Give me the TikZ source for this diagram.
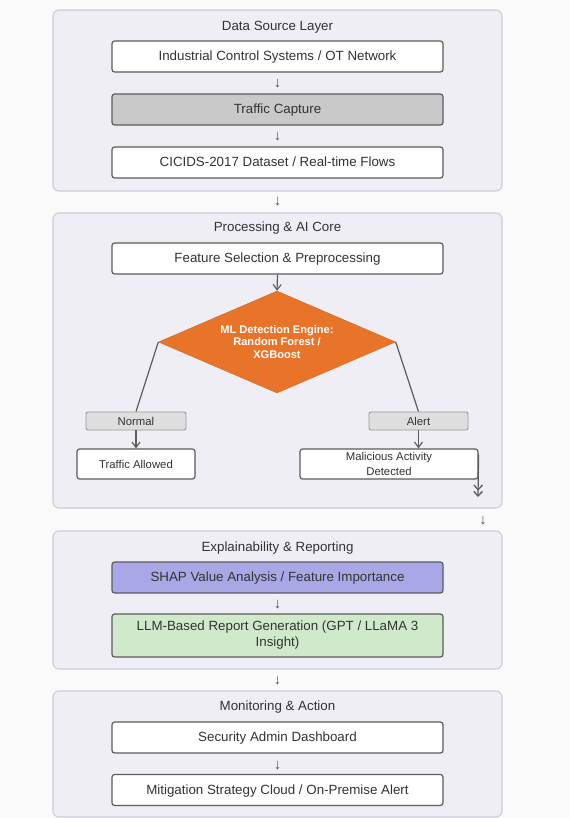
\documentclass[tikz,border=0pt]{standalone}
\usepackage{fontspec}
\setmainfont{Liberation Sans}
\usetikzlibrary{shapes.geometric,arrows.meta}
\definecolor{bgpage}{HTML}{FAFAFA}
\definecolor{layerfill}{HTML}{EEEEF4}
\definecolor{layerdraw}{HTML}{C9CBD9}
\definecolor{boxdraw}{HTML}{5C5C5C}
\definecolor{txt}{HTML}{333333}
\definecolor{capfill}{HTML}{C9C9C9}
\definecolor{shapfill}{HTML}{A9A7E6}
\definecolor{llmfill}{HTML}{D0E9CB}
\definecolor{diafill}{HTML}{E8742A}
\definecolor{tagfill}{HTML}{DEDEDE}
\definecolor{tagdraw}{HTML}{9A9A9A}
\begin{document}
\begin{tikzpicture}[x=0.75pt,y=-0.75pt,
  layer/.style={draw=layerdraw, fill=layerfill, rounded corners=4.5pt, line width=0.8pt},
  ltitle/.style={text=txt, font=\fontsize{10}{12}\selectfont, inner sep=0pt},
  oneline/.style={text height=1.5ex, text depth=0.3ex},
  stepbox/.style={draw=boxdraw, fill=white, rounded corners=2pt, line width=0.9pt,
    minimum width=248.25pt, minimum height=23.25pt, inner sep=0pt, text=txt,
    font=\fontsize{10}{12}\selectfont, align=center},
  smallbox/.style={draw=boxdraw, fill=white, rounded corners=2pt, line width=0.9pt,
    minimum height=22.5pt, inner sep=0pt, text=txt,
    font=\fontsize{8.5}{11}\selectfont, align=center},
  tagbox/.style={draw=tagdraw, fill=tagfill, rounded corners=1.5pt, line width=0.7pt,
    minimum width=75pt, minimum height=13.5pt, inner sep=0pt, text=txt,
    font=\fontsize{8.5}{10}\selectfont, oneline},
  glypharrow/.style={text=txt!85, font=\fontsize{11}{12}\selectfont, inner sep=0pt},
  link/.style={draw=boxdraw, line width=0.9pt},
  flow/.style={link, -{Straight Barb[length=4pt,width=6pt,line width=0.9pt]}},
  dflow/.style={link, -{Straight Barb[length=3.5pt,width=6.5pt,line width=1pt]Straight Barb[length=3.5pt,width=6.5pt,line width=1pt]}}
]
\useasboundingbox (0,0) rectangle (570,818);
\fill[bgpage] (0,0) rectangle (570,818);

% ---- Layer 1
\draw[layer] (53,10) rectangle (502,191);
\node[ltitle] (t1) at (277.5,27) {Data Source Layer};
\node[stepbox, oneline] (ics) at (277.5,56.5) {Industrial Control Systems / OT Network};
\node[glypharrow] (a1) at (277.5,84) {↓};
\node[stepbox, oneline, fill=capfill] (cap) at (277.5,109.5) {Traffic Capture};
\node[glypharrow] (a2) at (277.5,137) {↓};
\node[stepbox, oneline] (cic) at (277.5,162.5) {CICIDS-2017 Dataset / Real-time Flows};

\node[glypharrow] (a3) at (277.5,202) {↓};

% ---- Layer 2
\draw[layer] (53,213) rectangle (502,508);
\node[ltitle] (t2) at (277.5,228) {Processing \& AI Core};
\node[stepbox, oneline] (feat) at (277.5,258.5) {Feature Selection \& Preprocessing};
\node[diamond, aspect=2.3, fill=diafill, draw=diafill!90!black, line width=0.3pt,
      minimum width=177.75pt, minimum height=76.5pt, inner sep=0pt,
      text=white, font=\bfseries\fontsize{8.3}{9.4}\selectfont, align=center]
      (ml) at (277,342) {ML Detection Engine:\\Random Forest /\\XGBoost};
\draw[flow] (feat.south) -- (ml.north);

\node[tagbox] (normal) at (136,421) {Normal};
\node[tagbox, minimum width=74.25pt] (alert) at (418.5,421) {Alert};
\draw[link] (ml.west) -- (normal.north);
\draw[link] (ml.east) -- (alert.north);

\node[smallbox, oneline, minimum width=88.5pt] (allowed) at (136,464) {Traffic Allowed};
\node[smallbox, minimum width=133.5pt] (mal) at (389,464) {Malicious Activity\\Detected};
\draw[flow] (normal.south) -- (allowed.north);
\draw[flow] (alert.south) -- (alert.south |- mal.north);
\coordinate (malend) at (478,497);
\draw[dflow] (mal.north east) ++(0,6) -- (malend);

\node[glypharrow] (a4) at (483,521) {↓};

% ---- Layer 3
\draw[layer] (53,531) rectangle (502,669);
\node[ltitle] (t3) at (277.5,548) {Explainability \& Reporting};
\node[stepbox, oneline, fill=shapfill] (shap) at (277.5,577.5) {SHAP Value Analysis / Feature Importance};
\node[glypharrow] (a5) at (277.5,605) {↓};
\node[stepbox, fill=llmfill, minimum height=32.25pt] (llm) at (277.5,635.5) {LLM-Based Report Generation (GPT / LLaMA 3\\Insight)};

\node[glypharrow] (a6) at (277.5,681) {↓};

% ---- Layer 4
\draw[layer] (53,691) rectangle (502,817);
\node[ltitle] (t4) at (277.5,707) {Monitoring \& Action};
\node[stepbox, oneline] (sec) at (277.5,737.5) {Security Admin Dashboard};
\node[glypharrow] (a7) at (277.5,766) {↓};
\node[stepbox, oneline] (mit) at (277.5,790) {Mitigation Strategy Cloud / On-Premise Alert};
\end{tikzpicture}
\end{document}
